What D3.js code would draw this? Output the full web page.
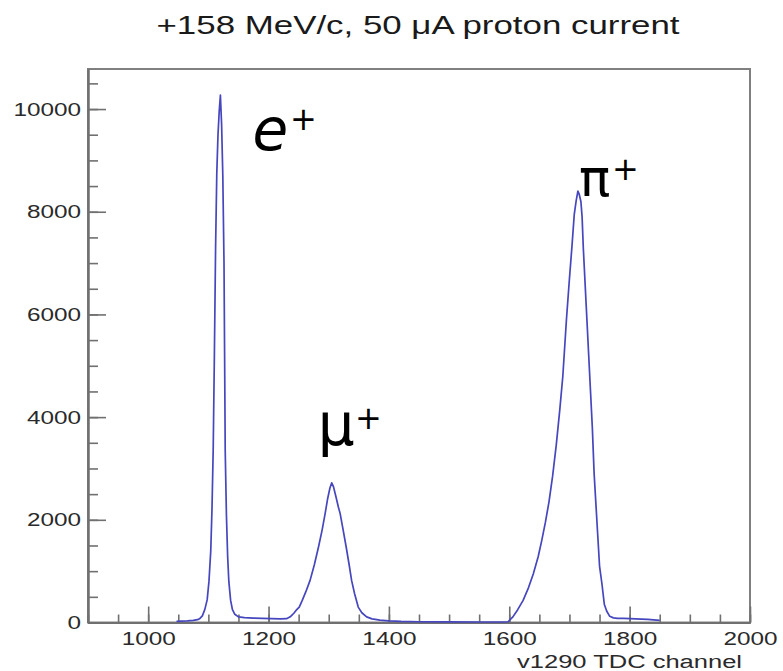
<!DOCTYPE html>
<html>
<head>
<meta charset="utf-8">
<script src="https://cdn.jsdelivr.net/npm/d3@7"></script>
<style>
  body { margin: 0; background: #fff; }
  svg { display: block; }
</style>
</head>
<body>
<div id="main"></div>
<script>
// TDC channel vs counts
const channels = [
  1047, 1055, 1065, 1075, 1082, 1086, 1090, 1094, 1098, 1101,
  1104, 1106, 1108, 1110, 1112, 1114, 1116, 1118, 1120, 1122,
  1124, 1126, 1127, 1128, 1130, 1132, 1134, 1137, 1140, 1144,
  1150, 1160, 1175, 1190, 1205, 1220, 1230, 1236, 1242, 1246,
  1251, 1256, 1262, 1269, 1276, 1283, 1289, 1294, 1298, 1302,
  1305, 1308, 1312, 1316, 1319, 1324, 1329, 1334, 1338, 1343,
  1349, 1355, 1363, 1372, 1385, 1400, 1420, 1450, 1500, 1550,
  1590, 1598, 1606, 1614, 1623, 1632, 1640, 1648, 1654, 1660,
  1666, 1672, 1678, 1684, 1689, 1695, 1700, 1704, 1708, 1711,
  1714, 1716, 1719, 1721, 1723, 1726, 1729, 1732, 1735, 1738,
  1741, 1744, 1747, 1750, 1754, 1758, 1762, 1767, 1773, 1780,
  1790, 1800, 1810, 1820, 1830, 1840, 1850
];
const counts = [
  20, 25, 30, 40, 55, 80, 130, 250, 440, 800,
  1400, 2200, 3350, 5200, 7300, 8750, 9500, 9950, 10270, 9700,
  8700, 7000, 5200, 3350, 2100, 1300, 800, 430, 250, 160,
  110, 95, 85, 80, 75, 70, 75, 110, 180, 240,
  300, 430, 600, 820, 1120, 1470, 1800, 2120, 2400, 2620,
  2720, 2640, 2450, 2250, 2120, 1800, 1470, 1120, 820, 560,
  300, 190, 110, 70, 45, 30, 20, 15, 12, 10,
  10, 15, 110, 250, 430, 680, 950, 1280, 1600, 1950,
  2350, 2850, 3450, 4150, 4800, 5900, 6700, 7300, 7950, 8200,
  8400, 8350, 8200, 7900, 7300, 6600, 5900, 5200, 4500, 3800,
  2900, 2300, 1700, 1100, 750, 350, 220, 120, 90, 80,
  80, 75, 70, 65, 60, 50, 40
];

const xMajor = [1000, 1200, 1400, 1600, 1800, 2000];
const yMajor = [0, 2000, 4000, 6000, 8000, 10000];
const xMinor = d3.range(900, 2001, 50);
const yMinor = d3.range(0, 10501, 500);

const titleText = "+158 MeV/c, 50 \u03bcA proton current";
const xTitle = "v1290 TDC channel";
const peaks = [
  { name: "e", ch: 1120 },
  { name: "\u03bc", ch: 1305 },
  { name: "\u03c0", ch: 1714 }
];

const W = 783, H = 671;
const frame = { left: 88, right: 750, top: 69, bottom: 622.5 };
const stretch = 1.28; // the picture is wider than it is tall

const x = d3.scaleLinear().domain([900, 2000]).range([frame.left, frame.right]);
const y = d3.scaleLinear().domain([0, 10780]).range([frame.bottom, frame.top]);

const svg = d3.select("#main").append("svg")
  .attr("width", W).attr("height", H)
  .style("font-family", "'Liberation Sans', Arial, sans-serif");

svg.append("rect").attr("width", W).attr("height", H).attr("fill", "#fff");

// frame
svg.append("rect")
  .attr("x", frame.left).attr("y", frame.top)
  .attr("width", frame.right - frame.left)
  .attr("height", frame.bottom - frame.top)
  .attr("fill", "none").attr("stroke", "#808080").attr("stroke-width", 2);

// minor ticks
const gx = svg.append("g").attr("transform", `translate(0,${frame.bottom})`);
gx.call(d3.axisBottom(x).tickValues(xMinor).tickSizeInner(-8).tickSizeOuter(0).tickFormat(""));
const gy = svg.append("g").attr("transform", `translate(${frame.left},0)`);
gy.call(d3.axisLeft(y).tickValues(yMinor).tickSizeInner(-10).tickSizeOuter(0).tickFormat(""));

// major ticks + labels
const gx2 = svg.append("g").attr("transform", `translate(0,${frame.bottom})`)
  .call(d3.axisBottom(x).tickValues(xMajor).tickSizeInner(-16).tickSizeOuter(0).tickPadding(9).tickFormat(d3.format("d")));
const gy2 = svg.append("g").attr("transform", `translate(${frame.left},0)`)
  .call(d3.axisLeft(y).tickValues(yMajor).tickSizeInner(-18).tickSizeOuter(0).tickPadding(7).tickFormat(d3.format("d")));

[gx, gy, gx2, gy2].forEach(g => {
  g.select(".domain").attr("stroke", "#707070").attr("stroke-width", 2);
  g.selectAll(".tick line").attr("stroke", "#707070").attr("stroke-width", 1.6);
  g.selectAll(".tick text")
    .attr("fill", "#2a2a2a")
    .attr("font-size", 19)
    .attr("font-family", "'Liberation Sans', Arial, sans-serif")
    .each(function () {
      const t = d3.select(this);
      const x0 = +t.attr("x") || 0;
      t.attr("x", x0 / stretch).attr("transform", `scale(${stretch},1)`);
    });
});

// histogram line
const pts = channels.map((c, i) => [c, counts[i]]);
svg.append("path")
  .datum(pts)
  .attr("fill", "none")
  .attr("stroke", "#4646be")
  .attr("stroke-width", 1.7)
  .attr("stroke-linejoin", "round")
  .attr("d", d3.line().x(d => x(d[0])).y(d => y(d[1])));

// title
svg.append("text")
  .attr("x", 418).attr("y", 34)
  .attr("text-anchor", "middle")
  .attr("font-size", 25)
  .attr("textLength", 523).attr("lengthAdjust", "spacingAndGlyphs")
  .attr("fill", "#1a1a1a")
  .text(titleText);

// axis title
svg.append("text")
  .attr("x", 742).attr("y", 668)
  .attr("text-anchor", "end")
  .attr("font-size", 18)
  .attr("textLength", 225).attr("lengthAdjust", "spacingAndGlyphs")
  .attr("fill", "#2a2a2a")
  .text(xTitle);

// particle labels
const labelPos = [
  { dx: 32, base: 150, size: 58, italic: true, px: 290, py: 130 },
  { dx: -14, base: 445, size: 58, italic: false, px: 355, py: 429 },
  { dx: 1, base: 196, size: 52, italic: false, px: 612, py: 180 }
];
peaks.forEach((p, i) => {
  const L = labelPos[i];
  svg.append("text")
    .attr("x", x(p.ch) + L.dx)
    .attr("y", L.base)
    .attr("font-family", "'DejaVu Sans', sans-serif")
    .attr("font-size", L.size)
    .attr("font-style", L.italic ? "italic" : "normal")
    .attr("fill", "#000")
    .text(p.name);
  svg.append("text")
    .attr("x", L.px).attr("y", L.py)
    .attr("font-family", "'DejaVu Sans', sans-serif")
    .attr("font-size", 32)
    .attr("fill", "#000")
    .text("+");
});
</script>
</body>
</html>
